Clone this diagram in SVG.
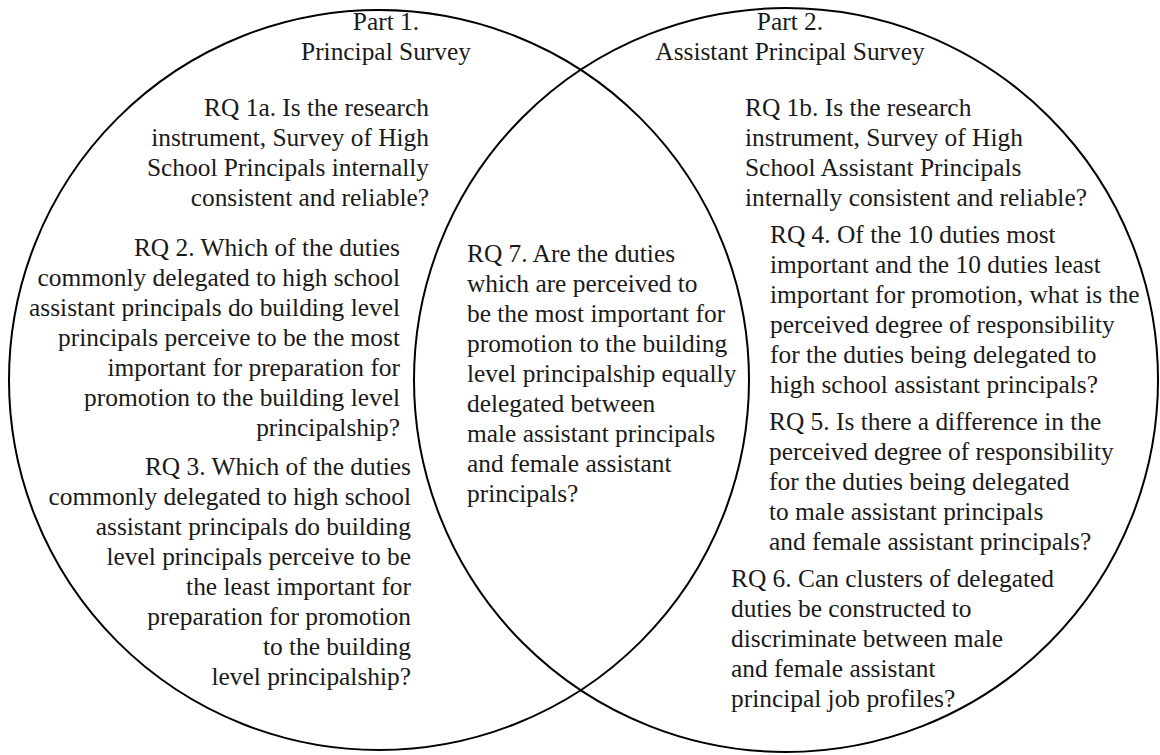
<svg xmlns="http://www.w3.org/2000/svg" width="1160" height="755" viewBox="0 0 1160 755">
<style>
.c{fill:none;stroke:#000;stroke-width:2}
text{font-family:"Liberation Serif","Times New Roman",serif;font-size:25.4px;fill:#1a1a1a}
.e{text-anchor:end}.m{text-anchor:middle}.s{text-anchor:start}
</style>
<rect width="1160" height="755" fill="#fff"/>
<g id="connectors"></g>
<g id="part1">
<circle class="c" cx="379" cy="380" r="370"/>
<text class="m"><tspan x="386" y="30">Part 1.</tspan><tspan x="386" y="60">Principal Survey</tspan></text>
</g>
<g id="part2">
<circle class="c" cx="786" cy="380" r="372"/>
<text class="m"><tspan x="790" y="30">Part 2.</tspan><tspan x="790" y="60">Assistant Principal Survey</tspan></text>
</g>
<g id="rq1a">
<text class="e"><tspan x="429" y="116">RQ 1a. Is the research</tspan><tspan x="429" dy="30">instrument, Survey of High</tspan><tspan x="429" dy="30">School Principals internally</tspan><tspan x="429" dy="30">consistent and reliable?</tspan></text>
</g>
<g id="rq2">
<text class="e"><tspan x="400" y="256">RQ 2. Which of the duties</tspan><tspan x="400" dy="30">commonly delegated to high school</tspan><tspan x="400" dy="30">assistant principals do building level</tspan><tspan x="400" dy="30">principals perceive to be the most</tspan><tspan x="400" dy="30">important for preparation for</tspan><tspan x="400" dy="30">promotion to the building level</tspan><tspan x="400" dy="30">principalship?</tspan></text>
</g>
<g id="rq3">
<text class="e"><tspan x="411" y="475">RQ 3. Which of the duties</tspan><tspan x="411" dy="30">commonly delegated to high school</tspan><tspan x="411" dy="30">assistant principals do building</tspan><tspan x="411" dy="30">level principals perceive to be</tspan><tspan x="411" dy="30">the least important for</tspan><tspan x="411" dy="30">preparation for promotion</tspan><tspan x="411" dy="30">to the building</tspan><tspan x="411" dy="30">level principalship?</tspan></text>
</g>
<g id="rq7">
<text class="s"><tspan x="467" y="262">RQ 7. Are the duties</tspan><tspan x="467" dy="30">which are perceived to</tspan><tspan x="467" dy="30">be the most important for</tspan><tspan x="467" dy="30">promotion to the building</tspan><tspan x="467" dy="30">level principalship equally</tspan><tspan x="467" dy="30">delegated between</tspan><tspan x="467" dy="30">male assistant principals</tspan><tspan x="467" dy="30">and female assistant</tspan><tspan x="467" dy="30">principals?</tspan></text>
</g>
<g id="rq1b">
<text class="s"><tspan x="745" y="116">RQ 1b. Is the research</tspan><tspan x="745" dy="30">instrument, Survey of High</tspan><tspan x="745" dy="30">School Assistant Principals</tspan><tspan x="745" dy="30">internally consistent and reliable?</tspan></text>
</g>
<g id="rq4">
<text class="s"><tspan x="770" y="243">RQ 4. Of the 10 duties most</tspan><tspan x="770" dy="30">important and the 10 duties least</tspan><tspan x="770" dy="30">important for promotion, what is the</tspan><tspan x="770" dy="30">perceived degree of responsibility</tspan><tspan x="770" dy="30">for the duties being delegated to</tspan><tspan x="770" dy="30">high school assistant principals?</tspan></text>
</g>
<g id="rq5">
<text class="s"><tspan x="769" y="430">RQ 5. Is there a difference in the</tspan><tspan x="769" dy="30">perceived degree of responsibility</tspan><tspan x="769" dy="30">for the duties being delegated</tspan><tspan x="769" dy="30">to male assistant principals</tspan><tspan x="769" dy="30">and female assistant principals?</tspan></text>
</g>
<g id="rq6">
<text class="s"><tspan x="731" y="587">RQ 6. Can clusters of delegated</tspan><tspan x="731" dy="30">duties be constructed to</tspan><tspan x="731" dy="30">discriminate between male</tspan><tspan x="731" dy="30">and female assistant</tspan><tspan x="731" dy="30">principal job profiles?</tspan></text>
</g>
</svg>
